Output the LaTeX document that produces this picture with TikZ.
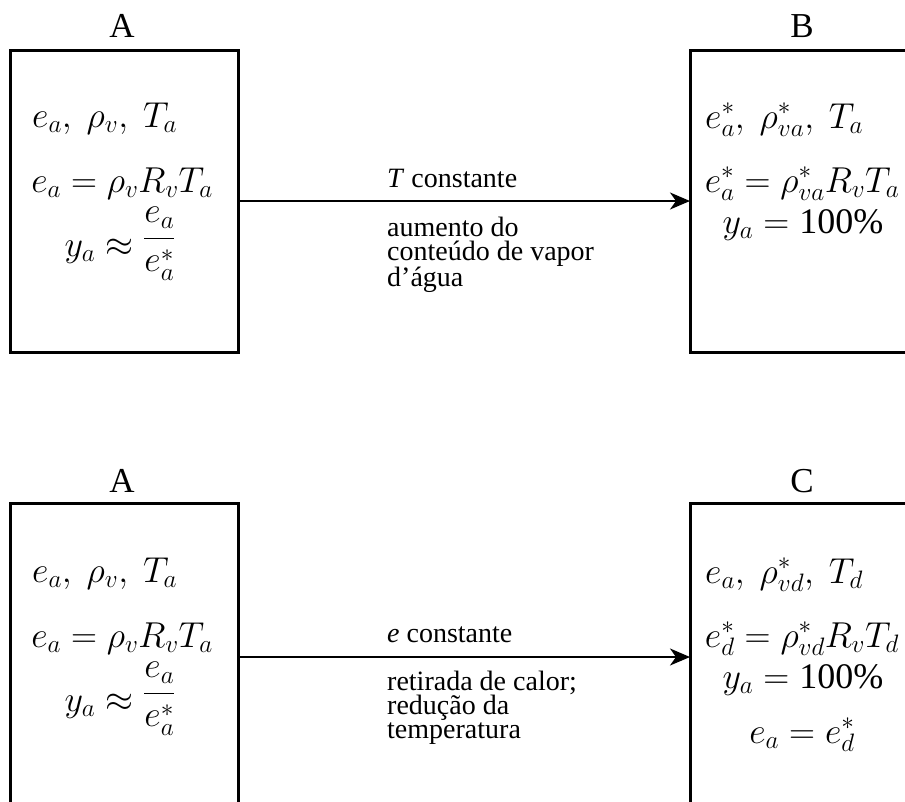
\RequirePackage{fix-cm}
\documentclass[tikz,border=0pt]{standalone}
\usepackage{amsmath}
\usepackage{fontspec}
\setmainfont{Liberation Serif}
\usetikzlibrary{arrows.meta}
\begin{document}
\begin{tikzpicture}[x=1pt,y=-1pt,
  box/.style={draw,line width=3pt,rectangle,inner sep=0pt,outer sep=0pt},
  conn/.style={line width=2pt,-{Stealth[length=20pt,width=17pt,inset=6pt]}},
  lbl/.style={inner sep=0pt,font=\fontsize{35}{40}\selectfont},
  eq/.style={inner sep=0pt,font=\fontsize{36}{42}\selectfont},
  note/.style={inner sep=0pt,align=left,font=\fontsize{28}{23.5}\selectfont}]
\useasboundingbox (0,0) rectangle (905,801);
\clip (0,0) rectangle (905,801);
% ---------- top row ----------
\node[box,minimum width=228pt,minimum height=302pt,anchor=north west] (A1) at (10,50) {};
\node[box,minimum width=300pt,minimum height=302pt,anchor=north west] (B1) at (690,50) {};
\node[lbl,anchor=base] (lA1) at (122,37) {A};
\node[lbl,anchor=base] (lB1) at (802,37) {B};
\node[eq,anchor=base west] (a1l1) at (32,127) {$e_a,\ \rho_v,\ T_a$};
\node[eq,anchor=base] (a1l2) at (122,192) {$e_a = \rho_v R_v T_a$};
\node[eq,anchor=base] (a1l3) at (120,256) {$y_a \approx \raisebox{9pt}{$\displaystyle\frac{e_a}{e_a^*}$}$};
\node[eq,anchor=base west] (b1l1) at (705,128) {$e_a^*,\ \rho_{va}^*,\ T_a$};
\node[eq,anchor=base] (b1l2) at (802,192) {$e_a^* = \rho_{va}^* R_v T_a$};
\node[eq,anchor=base] (b1l3) at (803,233) {$y_a = \text{100\%}$};
\draw[conn] (A1.east) -- (B1.west);
\node[note,anchor=base west] (t1) at (387,187) {\textit{T} constante};
\node[note,anchor=north west] (d1) at (387,217) {aumento do\\conteúdo de vapor\\d’água};
% ---------- bottom row ----------
\node[box,minimum width=228pt,minimum height=308pt,anchor=north west] (A2) at (10,503) {};
\node[box,minimum width=300pt,minimum height=308pt,anchor=north west] (C2) at (690,503) {};
\node[lbl,anchor=base] (lA2) at (122,492) {A};
\node[lbl,anchor=base] (lC2) at (802,492) {C};
\node[eq,anchor=base west] (a2l1) at (32,582) {$e_a,\ \rho_v,\ T_a$};
\node[eq,anchor=base] (a2l2) at (122,647) {$e_a = \rho_v R_v T_a$};
\node[eq,anchor=base] (a2l3) at (120,711) {$y_a \approx \raisebox{9pt}{$\displaystyle\frac{e_a}{e_a^*}$}$};
\node[eq,anchor=base west] (c2l1) at (705,583) {$e_a,\ \rho_{vd}^*,\ T_d$};
\node[eq,anchor=base] (c2l2) at (802,647) {$e_d^* = \rho_{vd}^* R_v T_d$};
\node[eq,anchor=base] (c2l3) at (803,688) {$y_a = \text{100\%}$};
\node[eq,anchor=base] (c2l4) at (802,743) {$e_a = e_d^*$};
\draw[conn] (A2.east) -- (C2.west);
\node[note,anchor=base west] (t2) at (387,642) {\textit{e} constante};
\node[note,anchor=north west] (d2) at (387,670.5) {retirada de calor;\\redução da\\temperatura};
\end{tikzpicture}
\end{document}
